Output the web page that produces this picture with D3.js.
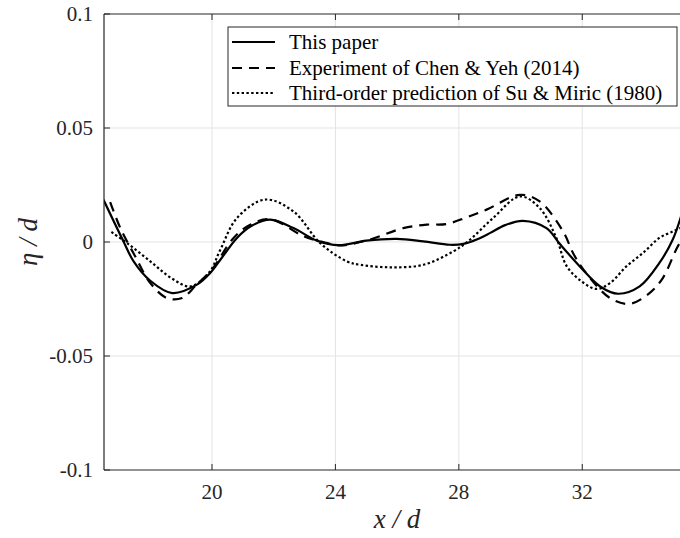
<!DOCTYPE html>
<html>
<head>
<meta charset="utf-8">
<script src="https://cdn.jsdelivr.net/npm/d3@7"></script>
<style>
  body { margin: 0; background: #fff; }
  svg { display: block; }
</style>
</head>
<body>
<div id="chart"></div>
<script>
let w = 680;
let h = 538;

// series
let paperX = [16.48, 17.14, 17.46, 18.0, 18.71, 19.51, 19.94, 20.27, 20.81, 21.3, 21.89, 22.64, 23.4, 24.1, 25.0, 25.99, 26.85, 27.71, 28.15, 28.6, 29.02, 29.5, 30.08, 30.84, 31.27, 31.92, 32.58, 33.16, 33.86, 34.5, 34.93, 35.2];
let paperY = [0.0186, 0.0, -0.0085, -0.017, -0.0224, -0.0187, -0.0136, -0.0078, 0.0018, 0.0072, 0.0098, 0.0061, 0.0006, -0.0014, 0.0006, 0.0014, 0.0003, -0.0012, -0.0008, 0.0012, 0.004, 0.0074, 0.0093, 0.0061, -0.0008, -0.0107, -0.0195, -0.0227, -0.0195, -0.0092, 0.001, 0.0112];

let expX = [16.7, 17.03, 17.5, 18.0, 18.54, 19.03, 19.5, 20.0, 20.7, 21.24, 21.89, 22.97, 23.6, 24.15, 25.1, 26.2, 26.96, 27.6, 28.25, 28.9, 29.98, 30.62, 31.38, 31.7, 32.04, 32.9, 33.54, 34.18, 34.61, 35.04, 35.2];
let expY = [0.0175, 0.0061, -0.006, -0.018, -0.0246, -0.0246, -0.0187, -0.012, 0.0018, 0.0076, 0.01, 0.0025, 0.0, -0.0015, 0.001, 0.0061, 0.0076, 0.0079, 0.0108, 0.0142, 0.0207, 0.0178, 0.0046, -0.0048, -0.0121, -0.0246, -0.0271, -0.0224, -0.0158, -0.0034, 0.0005];

let suX = [16.74, 17.3, 18.0, 18.7, 19.3, 19.9, 20.27, 20.81, 21.72, 22.64, 23.5, 24.37, 24.8, 25.77, 26.85, 27.82, 28.3, 29.11, 29.98, 30.62, 31.16, 31.5, 32.0, 32.46, 32.9, 33.43, 33.97, 34.5, 34.93, 35.2];
let suY = [0.0044, -0.001, -0.0085, -0.016, -0.0195, -0.0135, -0.0034, 0.0105, 0.0186, 0.0134, -0.0004, -0.0085, -0.01, -0.0111, -0.01, -0.0041, 0.0003, 0.0105, 0.02, 0.0149, 0.0018, -0.0107, -0.0175, -0.0206, -0.018, -0.0107, -0.0048, 0.0018, 0.0046, 0.0062];

let xTicks = [20, 24, 28, 32];
let yTicks = [-0.1, -0.05, 0, 0.05, 0.1];
let legendNames = ["This paper", "Experiment of Chen & Yeh (2014)", "Third-order prediction of Su & Miric (1980)"];

let pLeft = 104, pRight = 681, pTop = 14, pBottom = 470;

let svg = d3.select("#chart").append("svg")
    .attr("width", w)
    .attr("height", h)
    .style("font-family", "'Liberation Serif', 'Times New Roman', serif");

let xScale = d3.scaleLinear().domain([16.5, 35.2]).range([pLeft, pRight]);
let yScale = d3.scaleLinear().domain([-0.1, 0.1]).range([pBottom, pTop]);

// grid
svg.append("g").selectAll("line").data(xTicks).join("line")
    .attr("x1", d => xScale(d)).attr("x2", d => xScale(d))
    .attr("y1", pTop).attr("y2", pBottom)
    .attr("stroke", "#e3e3e3").attr("stroke-width", 1);
svg.append("g").selectAll("line").data(yTicks.slice(1, -1)).join("line")
    .attr("x1", pLeft).attr("x2", pRight)
    .attr("y1", d => yScale(d)).attr("y2", d => yScale(d))
    .attr("stroke", "#e3e3e3").attr("stroke-width", 1);

// curves
svg.append("clipPath").attr("id", "clip").append("rect")
    .attr("x", pLeft).attr("y", pTop).attr("width", pRight - pLeft).attr("height", pBottom - pTop);

let line = d3.line()
    .x(d => xScale(d[0]))
    .y(d => yScale(d[1]))
    .curve(d3.curveCatmullRom.alpha(0.5));

let series = [
    {xs: paperX, ys: paperY, dash: null},
    {xs: expX, ys: expY, dash: "10,7"},
    {xs: suX, ys: suY, dash: "2.4,2.4"}
];

let curves = svg.append("g").attr("clip-path", "url(#clip)");
series.forEach(function(s){
    curves.append("path")
        .datum(s.xs.map((x, i) => [x, s.ys[i]]))
        .attr("d", line)
        .attr("fill", "none")
        .attr("stroke", "#000")
        .attr("stroke-width", 2.2)
        .attr("stroke-dasharray", s.dash);
});

// axes box
let axisColor = "#262626";
svg.append("line").attr("x1", pLeft).attr("x2", pRight).attr("y1", pBottom).attr("y2", pBottom)
    .attr("stroke", axisColor).attr("stroke-width", 1.2);
svg.append("line").attr("x1", pLeft).attr("x2", pRight).attr("y1", pTop).attr("y2", pTop)
    .attr("stroke", axisColor).attr("stroke-width", 1.2);
svg.append("line").attr("x1", pLeft).attr("x2", pLeft).attr("y1", pTop).attr("y2", pBottom)
    .attr("stroke", axisColor).attr("stroke-width", 1.2);

// tick marks (inward)
svg.append("g").selectAll("line").data(xTicks).join("line")
    .attr("x1", d => xScale(d)).attr("x2", d => xScale(d))
    .attr("y1", pBottom).attr("y2", pBottom - 6)
    .attr("stroke", axisColor);
svg.append("g").selectAll("line").data(xTicks).join("line")
    .attr("x1", d => xScale(d)).attr("x2", d => xScale(d))
    .attr("y1", pTop).attr("y2", pTop + 6)
    .attr("stroke", axisColor);
svg.append("g").selectAll("line").data(yTicks).join("line")
    .attr("x1", pLeft).attr("x2", pLeft + 6)
    .attr("y1", d => yScale(d)).attr("y2", d => yScale(d))
    .attr("stroke", axisColor);

// tick labels
svg.append("g").selectAll("text").data(xTicks).join("text")
    .attr("x", d => xScale(d))
    .attr("y", pBottom + 29)
    .attr("text-anchor", "middle")
    .attr("font-size", 21)
    .attr("fill", "#262626")
    .text(d => d);
svg.append("g").selectAll("text").data(yTicks).join("text")
    .attr("x", pLeft - 11)
    .attr("y", d => yScale(d))
    .attr("dy", "0.35em")
    .attr("text-anchor", "end")
    .attr("font-size", 21)
    .attr("fill", "#262626")
    .text(d => d);

// axis labels
svg.append("text")
    .attr("x", 397).attr("y", 528)
    .attr("text-anchor", "middle")
    .attr("font-size", 27)
    .attr("font-style", "italic")
    .attr("fill", "#262626")
    .text("x / d");
svg.append("text")
    .attr("transform", "translate(37,242) rotate(-90)")
    .attr("text-anchor", "middle")
    .attr("font-size", 27)
    .attr("font-style", "italic")
    .attr("fill", "#262626")
    .text("η / d");

// legend
let lg = svg.append("g");
lg.append("rect")
    .attr("x", 228).attr("y", 27).attr("width", 449).attr("height", 79)
    .attr("fill", "#fff").attr("stroke", axisColor).attr("stroke-width", 1);
let rowY = [42, 68, 93];
lg.selectAll("line").data(series).join("line")
    .attr("x1", 232).attr("x2", 275)
    .attr("y1", (d, i) => rowY[i]).attr("y2", (d, i) => rowY[i])
    .attr("stroke", "#000").attr("stroke-width", 2.2)
    .attr("stroke-dasharray", d => d.dash);
lg.selectAll("text").data(legendNames).join("text")
    .attr("x", 289)
    .attr("y", (d, i) => rowY[i])
    .attr("dy", "0.33em")
    .attr("font-size", 21)
    .attr("fill", "#000")
    .text(d => d);
</script>
</body>
</html>
